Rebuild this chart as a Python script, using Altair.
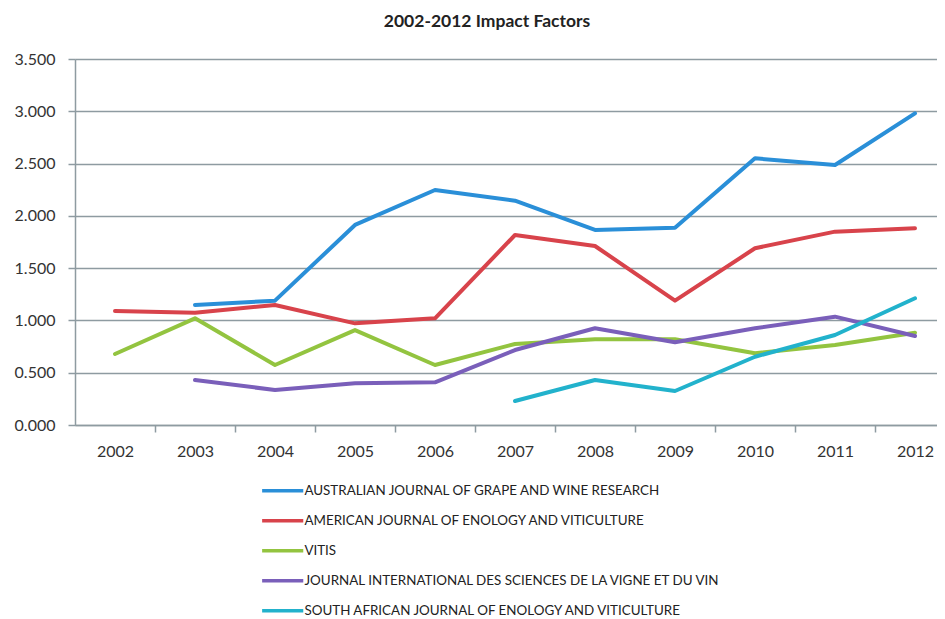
import altair as alt
import pandas as pd

years = [2002, 2003, 2004, 2005, 2006, 2007, 2008, 2009, 2010, 2011, 2012]

series_names = [
    "AUSTRALIAN JOURNAL OF GRAPE AND WINE RESEARCH",
    "AMERICAN JOURNAL OF ENOLOGY AND VITICULTURE",
    "VITIS",
    "JOURNAL INTERNATIONAL DES SCIENCES DE LA VIGNE ET DU VIN",
    "SOUTH AFRICAN JOURNAL OF ENOLOGY AND VITICULTURE",
]

ajgwr = [None, 1.148, 1.189, 1.913, 2.247, 2.145, 1.865, 1.887, 2.550, 2.486, 2.980]
ajev = [1.090, 1.074, 1.148, 0.972, 1.020, 1.817, 1.712, 1.189, 1.690, 1.849, 1.881]
vitis = [0.679, 1.020, 0.574, 0.908, 0.574, 0.775, 0.820, 0.820, 0.686, 0.765, 0.883]
jisvv = [None, 0.430, 0.335, 0.399, 0.408, 0.717, 0.925, 0.791, 0.925, 1.036, 0.851]
sajev = [None, None, None, None, None, 0.230, 0.430, 0.325, 0.653, 0.861, 1.212]

colors = ["#2a8fd8", "#d8434b", "#93c440", "#7a5fba", "#22b2cc"]

y_ticks = [0.0, 0.5, 1.0, 1.5, 2.0, 2.5, 3.0, 3.5]

rows = []
for name, vals in zip(series_names, [ajgwr, ajev, vitis, jisvv, sajev]):
    for yr, v in zip(years, vals):
        if v is not None:
            rows.append({"year": yr, "value": v, "journal": name})
df = pd.DataFrame(rows)

FONT = "Lato"
GRID = "#8e9ba1"

chart = (
    alt.Chart(df)
    .mark_line(strokeWidth=4, strokeJoin="round", strokeCap="round")
    .encode(
        x=alt.X(
            "year:Q",
            scale=alt.Scale(domain=[2001.5, 2012.275], nice=False, zero=False),
            axis=alt.Axis(
                values=years,
                format="d",
                title=None,
                grid=False,
                tickOffset=40,
                labelOffset=-40,
                tickSize=7,
                tickColor=GRID,
                tickWidth=1.5,
                domainColor=GRID,
                domainWidth=1.5,
                labelFont=FONT,
                labelFontSize=16,
                labelColor="#333333",
                labelPadding=11,
                labelFlush=False,
                labelOverlap=False,
            ),
        ),
        y=alt.Y(
            "value:Q",
            scale=alt.Scale(domain=[0, 3.5], nice=False),
            axis=alt.Axis(
                values=y_ticks,
                format=".3f",
                title=None,
                grid=True,
                gridColor=GRID,
                gridWidth=1.5,
                tickSize=7,
                tickColor=GRID,
                tickWidth=1.5,
                domainColor=GRID,
                domainWidth=1.5,
                labelFont=FONT,
                labelFontSize=16,
                labelColor="#333333",
                labelPadding=13,
            ),
        ),
        color=alt.Color(
            "journal:N",
            scale=alt.Scale(domain=series_names, range=colors),
            sort=series_names,
            legend=alt.Legend(
                title=None,
                orient="none",
                legendX=201,
                legendY=425,
                direction="vertical",
                symbolType="M-6,0H6",
                symbolSize=47,
                symbolStrokeWidth=3.5,
                symbolFillColor="transparent",
                labelOffset=15,
                labelFont=FONT,
                labelFontSize=13.4,
                labelColor="#222222",
                labelLimit=0,
                rowPadding=15,
                padding=0,
            ),
        ),
    )
    .properties(
        width=862,
        height=366,
        padding={"left": 67, "top": 51, "right": 0, "bottom": 200},
        autosize="none",
        title=alt.TitleParams(
            "2002-2012 Impact Factors",
            font=FONT,
            fontSize=17.5,
            fontWeight="bold",
            color="#222222",
            anchor="middle",
            dx=-19,
            baseline="bottom",
            offset=3,
        ),
    )
    .configure_view(stroke=None)
    .configure(background="white")
)

chart.save("out.html", embed_options={"renderer": "svg", "actions": False})
